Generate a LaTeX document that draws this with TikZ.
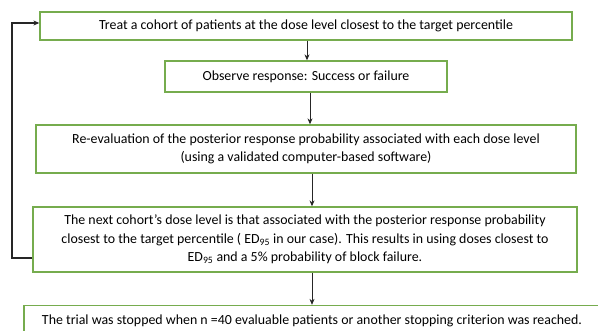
\documentclass[tikz,border=0pt]{standalone}
\usepackage{fontspec}
\setmainfont{Carlito}
\usetikzlibrary{arrows.meta}
\definecolor{boxgreen}{RGB}{118,172,78}
\tikzset{
  flowbox/.style={draw=boxgreen, line width=1.3pt, fill=white, align=center,
    inner sep=0pt, font=\fontsize{13.9}{18.5}\selectfont},
  flowarrow/.style={-{Stealth[length=6pt,width=5pt]}, line width=0.9pt, black!85}
}
\begin{document}
\begin{tikzpicture}[x=1pt,y=-1pt]
\clip (0,0) rectangle (598,331);
\fill[white] (0,0) rectangle (598,331);
\node[flowbox, minimum width=532pt, minimum height=28pt] (b1) at (306,26)
  {Treat a cohort of patients at the dose level closest to the target percentile};
\node[flowbox, minimum width=282pt, minimum height=31pt] (b2) at (306,76.5)
  {Observe response: Success or failure};
\node[flowbox, minimum width=540pt, minimum height=48pt] (b3) at (306,149)
  {Re-evaluation of the posterior response probability associated with each dose level\\
   (using a validated computer-based software)};
\node[flowbox, minimum width=544pt, minimum height=65pt] (b4) at (305,239.5)
  {The next cohort’s dose level is that associated with the posterior response probability\\
   closest to the target percentile ( ED\textsubscript{95} in our case). This results in using doses closest to\\
   ED\textsubscript{95} and a 5\% probability of block failure.};
\node[flowbox, minimum width=576pt, minimum height=30pt] (b5) at (312,320.5)
  {The trial was stopped when n =40 evaluable patients or another stopping criterion was reached.};
\coordinate (a1) at (307,0);
\coordinate (a2) at (310,0);
\coordinate (a3) at (312,0);
\coordinate (a4) at (312,0);
\draw[flowarrow] (b1.south -| a1) -- (b2.north -| a1);
\draw[flowarrow] (b2.south -| a2) -- (b3.north -| a2);
\draw[flowarrow] (b3.south -| a3) -- (b4.north -| a3);
\draw[flowarrow] (b4.south -| a4) -- (b5.north -| a4);
\coordinate (fb1) at (12,258);
\coordinate (fb2) at (12,23);
\draw[flowarrow, line width=1.3pt] (b4.west |- fb1) -- (fb1) -- (fb2) -- (b1.west |- fb2);
\end{tikzpicture}
\end{document}
